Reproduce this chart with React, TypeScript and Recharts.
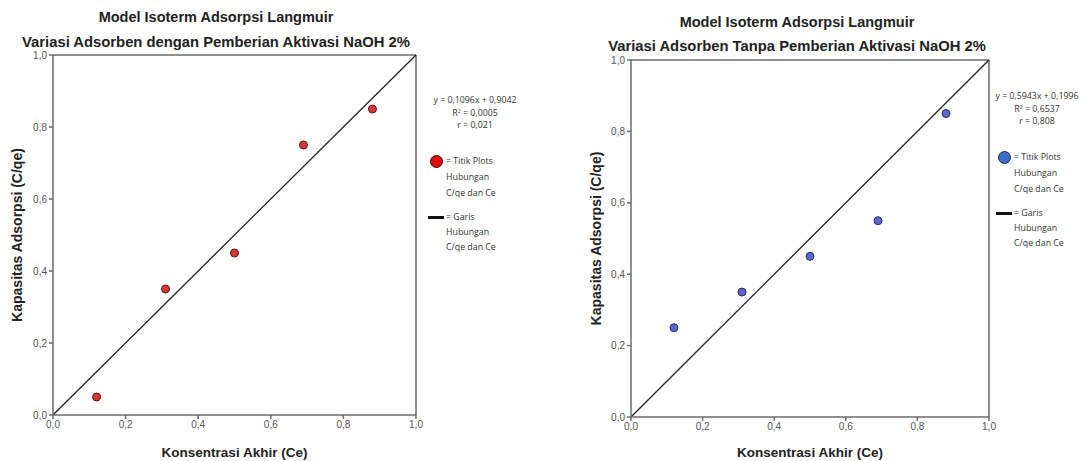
import { ReferenceLine, Scatter, ScatterChart, XAxis, YAxis } from 'recharts';

// ce = konsentrasi akhir, cqe = kapasitas adsorpsi
const ceValues = [0.12, 0.31, 0.5, 0.69, 0.88];
const withNaoh = [0.05, 0.35, 0.45, 0.75, 0.85];
const withoutNaoh = [0.25, 0.35, 0.45, 0.55, 0.85];
const axisTicks = [0, 0.2, 0.4, 0.6, 0.8, 1.0];
const diagonal = [
  { x: 0, y: 0 },
  { x: 1, y: 1 },
];

const titleMain = 'Model Isoterm Adsorpsi Langmuir';
const titleLeft = 'Variasi Adsorben dengan Pemberian Aktivasi NaOH 2%';
const titleRight = 'Variasi Adsorben Tanpa Pemberian Aktivasi NaOH 2%';
const xTitle = 'Konsentrasi Akhir (Ce)';
const yTitle = 'Kapasitas Adsorpsi (C/qe)';
const statsLeft = ['y = 0,1096x + 0,9042', 'R² = 0,0005', 'r = 0,021'];
const statsRight = ['y = 0,5943x + 0,1996', 'R² = 0,6537', 'r = 0,808'];

const toPoints = (ys: number[]) => ceValues.map((x, i) => ({ x, y: ys[i] }));
const fmt = (v: number) => v.toFixed(1).replace('.', ',');

const font = '"Liberation Sans", Arial, sans-serif';
const noteFont = '"Open Sans", sans-serif';
const axisColor = '#6b6b6b';

type PanelProps = {
  left: number;
  width: number;
  yAxisWidth: number;
  marginTop: number;
  marginRight: number;
  xAxisHeight: number;
  data: { x: number; y: number }[];
  fill: string;
  stroke: string;
  yLabelOffset: number;
};

function Panel(p: PanelProps) {
  return (
    <div style={{ position: 'absolute', left: p.left, top: 0 }}>
      <ScatterChart
        width={p.width}
        height={461}
        margin={{ top: p.marginTop, right: p.marginRight, left: 0, bottom: 0 }}
      >
        <XAxis
          type="number"
          dataKey="x"
          domain={[0, 1]}
          ticks={axisTicks}
          tickFormatter={fmt}
          height={p.xAxisHeight}
          stroke={axisColor}
          strokeWidth={1.5}
          tickSize={4}
          tick={{ fontSize: 10, fill: '#555', fontFamily: font }}
          label={{
            value: xTitle,
            position: 'insideBottom',
            offset: 4,
            style: { fontSize: 13.5, fontWeight: 'bold', fill: '#222', fontFamily: font },
          }}
        />
        <YAxis
          type="number"
          dataKey="y"
          domain={[0, 1]}
          ticks={axisTicks}
          tickFormatter={fmt}
          width={p.yAxisWidth}
          stroke={axisColor}
          strokeWidth={1.5}
          tickSize={4}
          tick={{ fontSize: 10, fill: '#555', fontFamily: font }}
          label={{
            value: yTitle,
            angle: -90,
            position: 'insideLeft',
            offset: p.yLabelOffset,
            style: {
              fontSize: 14,
              fontWeight: 'bold',
              fill: '#222',
              fontFamily: font,
              textAnchor: 'middle',
            },
          }}
        />
        <ReferenceLine y={1} stroke={axisColor} strokeWidth={1.5} />
        <ReferenceLine x={1} stroke={axisColor} strokeWidth={1.5} />
        <ReferenceLine
          segment={[diagonal[0], diagonal[1]]}
          stroke="#222"
          strokeWidth={1.3}
        />
        <Scatter
          data={p.data}
          isAnimationActive={false}
          shape={(s: any) => (
            <circle
              cx={s.cx}
              cy={s.cy}
              r={4}
              fill={p.fill}
              stroke={p.stroke}
              strokeWidth={1}
            />
          )}
        />
      </ScatterChart>
    </div>
  );
}

function Title({ cx, y, text, size }: { cx: number; y: number; text: string; size: number }) {
  return (
    <div
      style={{
        position: 'absolute',
        left: cx - 300,
        width: 600,
        top: y - size * 0.6,
        textAlign: 'center',
        fontFamily: font,
        fontWeight: 'bold',
        fontSize: size,
        lineHeight: `${size * 1.2}px`,
        color: '#222',
        whiteSpace: 'nowrap',
      }}
    >
      {text}
    </div>
  );
}

function Note({
  x,
  y,
  stats,
  dot,
  dotStroke,
  lineStart,
}: {
  x: number;
  y: number;
  stats: string[];
  dot: string;
  dotStroke: string;
  lineStart: number;
}) {
  const txt = {
    position: 'absolute' as const,
    fontFamily: noteFont,
    fontSize: 8.8,
    lineHeight: '12px',
    color: '#333',
    whiteSpace: 'nowrap' as const,
  };
  return (
    <>
      {stats.map((s, i) => (
        <div
          key={s}
          style={{ ...txt, left: x - 80, width: 160, textAlign: 'center', top: y - 6 + i * 12.5 }}
        >
          {s}
        </div>
      ))}
      <div
        style={{
          position: 'absolute',
          left: lineStart + 2,
          top: y + 55,
          width: 13,
          height: 13,
          borderRadius: '50%',
          background: dot,
          border: `1.5px solid ${dotStroke}`,
          boxSizing: 'border-box',
        }}
      />
      <div style={{ ...txt, left: lineStart + 18, top: y + 55 }}>= Titik Plots</div>
      <div style={{ ...txt, left: lineStart + 18, top: y + 71 }}>Hubungan</div>
      <div style={{ ...txt, left: lineStart + 18, top: y + 87 }}>C/qe dan Ce</div>
      <div
        style={{
          position: 'absolute',
          left: lineStart,
          top: y + 116,
          width: 16,
          height: 2.5,
          background: '#111',
        }}
      />
      <div style={{ ...txt, left: lineStart + 18, top: y + 111 }}>= Garis</div>
      <div style={{ ...txt, left: lineStart + 18, top: y + 126 }}>Hubungan</div>
      <div style={{ ...txt, left: lineStart + 18, top: y + 141 }}>C/qe dan Ce</div>
    </>
  );
}

export default function App() {
  return (
    <div
      style={{
        position: 'absolute',
        left: 0,
        top: 0,
        width: 1085,
        height: 461,
        background: '#fff',
        overflow: 'hidden',
      }}
    >
      <Panel
        left={0}
        width={550}
        yAxisWidth={53}
        marginTop={55}
        marginRight={134}
        xAxisHeight={46}
        data={toPoints(withNaoh)}
        fill="#d23a3a"
        stroke="#5a1414"
        yLabelOffset={17}
      />
      <Panel
        left={560}
        width={525}
        yAxisWidth={71}
        marginTop={60}
        marginRight={96}
        xAxisHeight={44}
        data={toPoints(withoutNaoh)}
        fill="#6366c8"
        stroke="#2a2a66"
        yLabelOffset={36}
      />
      <Title cx={216} y={18} text={titleMain} size={14.5} />
      <Title cx={216} y={43} text={titleLeft} size={14.8} />
      <Title cx={797} y={23} text={titleMain} size={14.5} />
      <Title cx={797} y={47} text={titleRight} size={14.8} />
      <Note x={475} y={100} stats={statsLeft} dot="#e01010" dotStroke="#3a0a0a" lineStart={428} />
      <Note x={1037} y={96} stats={statsRight} dot="#3f6fc4" dotStroke="#1a2a50" lineStart={996} />
    </div>
  );
}
